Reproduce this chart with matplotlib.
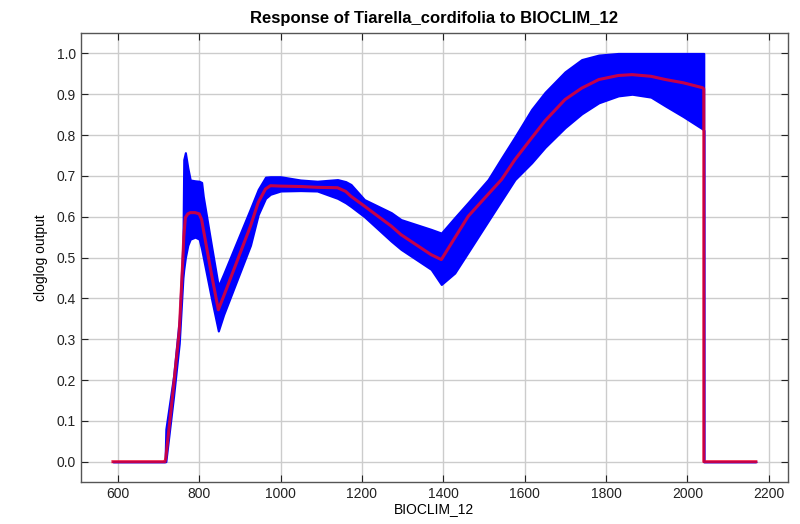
import matplotlib.pyplot as plt
import numpy as np

plt.rcParams['font.family'] = ['Liberation Sans', 'DejaVu Sans']

# BIOCLIM_12 values and the response (mean, mean+sd, mean-sd)
x = [588, 714, 716, 718, 737, 751, 760, 762, 766, 772, 778, 790, 800, 806, 810, 830,
     847, 860, 926, 945, 963, 975, 1000, 1049, 1090, 1140, 1160, 1173, 1206, 1272,
     1296, 1370, 1395, 1428, 1461, 1510, 1543, 1576, 1617, 1650, 1699, 1740, 1782,
     1830, 1864, 1910, 1946, 1990, 2037, 2040, 2040, 2168]
mean = [0, 0, 0, 0.01, 0.185, 0.32, 0.50, 0.55, 0.598, 0.607, 0.61, 0.61, 0.607, 0.593, 0.57, 0.46,
        0.372, 0.405, 0.577, 0.635, 0.668, 0.676, 0.675, 0.674, 0.672, 0.671, 0.662, 0.65, 0.626, 0.577,
        0.556, 0.507, 0.495, 0.548, 0.601, 0.655, 0.691, 0.74, 0.793, 0.835, 0.887, 0.915, 0.936,
        0.946, 0.948, 0.944, 0.936, 0.928, 0.916, 0.913, 0, 0]
upper = [0, 0, 0, 0.08, 0.21, 0.35, 0.54, 0.74, 0.757, 0.72, 0.69, 0.688, 0.687, 0.684, 0.65, 0.53,
         0.43, 0.46, 0.62, 0.667, 0.697, 0.698, 0.698, 0.69, 0.687, 0.691, 0.686, 0.679, 0.642, 0.61,
         0.593, 0.569, 0.56, 0.598, 0.635, 0.691, 0.744, 0.796, 0.863, 0.905, 0.955, 0.985, 0.996,
         1.0, 1.0, 1.0, 1.0, 1.0, 1.0, 1.0, 0, 0]
lower = [0, 0, 0, 0, 0.16, 0.29, 0.45, 0.47, 0.50, 0.53, 0.545, 0.55, 0.545, 0.52, 0.50, 0.40,
         0.32, 0.36, 0.53, 0.605, 0.645, 0.655, 0.663, 0.664, 0.663, 0.645, 0.634, 0.625, 0.60, 0.54,
         0.52, 0.471, 0.434, 0.462, 0.513, 0.589, 0.64, 0.691, 0.732, 0.77, 0.818, 0.852, 0.879,
         0.896, 0.90, 0.893, 0.871, 0.845, 0.815, 0.812, 0, 0]

fig = plt.figure(figsize=(8, 5.24), dpi=100)
ax = fig.add_axes([0.101, 0.080, 0.884, 0.857])

ax.fill_between(x, lower, upper, color='blue', edgecolor='blue', linewidth=1.5)
ax.plot(x, mean, color='#e8002a', alpha=0.85, linewidth=2.2)

ax.set_xticks(range(600, 2201, 200))
ax.set_yticks(np.arange(0, 1.01, 0.1))
ax.set_yticklabels(['%.1f' % v for v in np.arange(0, 1.01, 0.1)])
ax.grid(True, color='#cccccc', linewidth=1)
ax.set_axisbelow(True)
ax.tick_params(direction='in', top=True, right=True, length=5, labelsize=10, colors='#222222')
for s in ax.spines.values():
    s.set_color('#555555')
    s.set_linewidth(1)

ax.set_title('Response of Tiarella_cordifolia to BIOCLIM_12', fontsize=12, fontweight='bold', pad=7)
ax.set_xlabel('BIOCLIM_12', fontsize=10, labelpad=1)
ax.set_ylabel('cloglog output', fontsize=10, labelpad=6)

fig.savefig('out.png')
